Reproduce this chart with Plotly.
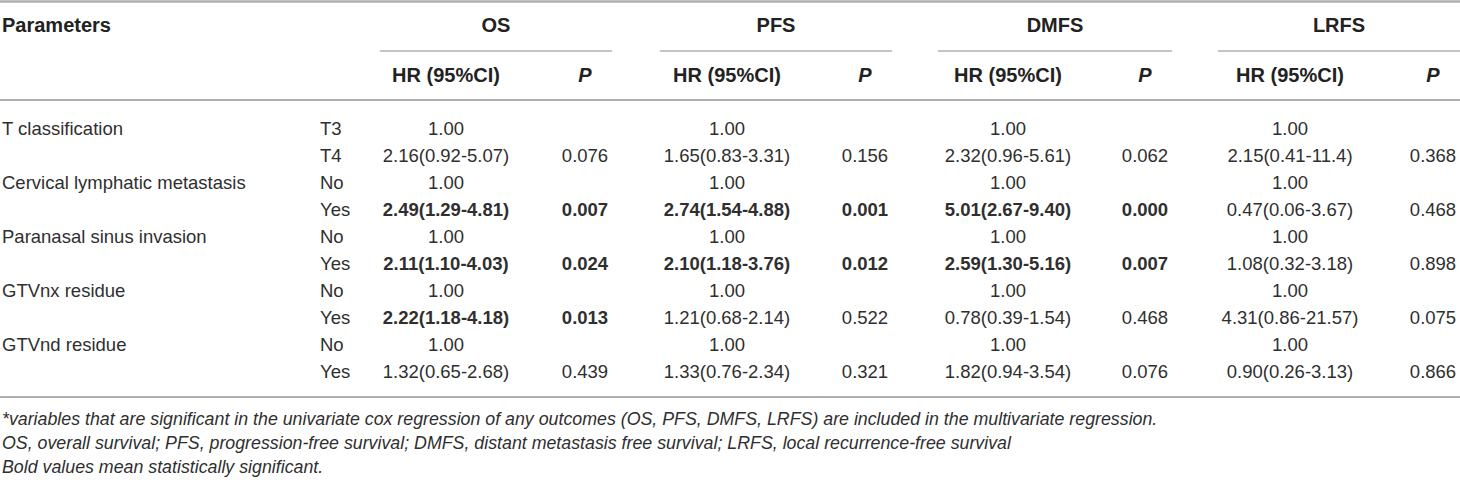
import plotly.graph_objects as go

# table data
params = ["T classification", "", "Cervical lymphatic metastasis", "", "Paranasal sinus invasion", "",
          "GTVnx residue", "", "GTVnd residue", ""]
levels = ["T3", "T4", "No", "Yes", "No", "Yes", "No", "Yes", "No", "Yes"]

os_hr = ["1.00", "2.16(0.92-5.07)", "1.00", "2.49(1.29-4.81)", "1.00", "2.11(1.10-4.03)",
         "1.00", "2.22(1.18-4.18)", "1.00", "1.32(0.65-2.68)"]
os_p = ["", "0.076", "", "0.007", "", "0.024", "", "0.013", "", "0.439"]
pfs_hr = ["1.00", "1.65(0.83-3.31)", "1.00", "2.74(1.54-4.88)", "1.00", "2.10(1.18-3.76)",
          "1.00", "1.21(0.68-2.14)", "1.00", "1.33(0.76-2.34)"]
pfs_p = ["", "0.156", "", "0.001", "", "0.012", "", "0.522", "", "0.321"]
dmfs_hr = ["1.00", "2.32(0.96-5.61)", "1.00", "5.01(2.67-9.40)", "1.00", "2.59(1.30-5.16)",
           "1.00", "0.78(0.39-1.54)", "1.00", "1.82(0.94-3.54)"]
dmfs_p = ["", "0.062", "", "0.000", "", "0.007", "", "0.468", "", "0.076"]
lrfs_hr = ["1.00", "2.15(0.41-11.4)", "1.00", "0.47(0.06-3.67)", "1.00", "1.08(0.32-3.18)",
           "1.00", "4.31(0.86-21.57)", "1.00", "0.90(0.26-3.13)"]
lrfs_p = ["", "0.368", "", "0.468", "", "0.898", "", "0.075", "", "0.866"]

outcomes = ["OS", "PFS", "DMFS", "LRFS"]
footnotes = [
    "*variables that are significant in the univariate cox regression of any outcomes (OS, PFS, DMFS, LRFS) are included in the multivariate regression.",
    "OS, overall survival; PFS, progression-free survival; DMFS, distant metastasis free survival; LRFS, local recurrence-free survival",
    "Bold values mean statistically significant.",
]

# layout (pixels)
W, H = 1460, 480
FONT = "Liberation Sans, Arial, Helvetica, sans-serif"
TXT = "#2f2f2f"
LINE = "#b0b0b0"
row_y0, row_step = 130, 27
y_head1, y_grpline, y_head2, y_sep = 27, 51, 77, 100
y_bottom = 397
foot_y0, foot_step = 421, 24

x_param, x_level = 2, 320
hr_x = [446, 727, 1008, 1290]
p_x = [585, 865, 1145, 1433]
grp_lines = [(380, 612), (660, 892), (938, 1172), (1218, 1460)]

rows_y = [row_y0 + row_step * i for i in range(len(levels))]


def bold_if(vals, pvals):
    out = []
    for v, p in zip(vals, pvals):
        if p != "" and float(p) < 0.05:
            out.append("<b>" + v + "</b>")
        else:
            out.append(v)
    return out


fig = go.Figure()

def add_text(x, y, text, pos="middle center", size=18.5, color=TXT):
    fig.add_trace(go.Scatter(
        x=x, y=y, text=text, mode="text", textposition=pos,
        textfont=dict(family=FONT, size=size, color=color),
        cliponaxis=False, hoverinfo="skip", showlegend=False
    ))

# body
add_text([x_param] * len(params), rows_y, params, pos="middle right")
add_text([x_level] * len(levels), rows_y, levels, pos="middle right")
for k, (hr, p) in enumerate([(os_hr, os_p), (pfs_hr, pfs_p), (dmfs_hr, dmfs_p), (lrfs_hr, lrfs_p)]):
    add_text([hr_x[k]] * len(hr), rows_y, bold_if(hr, p))
    add_text([p_x[k]] * len(p), rows_y, bold_if(p, p))

# headers
add_text([x_param], [y_head1], ["<b>Parameters</b>"], pos="middle right", size=20, color="#222")
add_text([(a + b) / 2 for a, b in grp_lines], [y_head1] * 4,
         ["<b>" + o + "</b>" for o in outcomes], size=20, color="#222")
add_text(hr_x, [y_head2] * 4, ["<b>HR (95%CI)</b>"] * 4, size=20, color="#222")
add_text(p_x, [y_head2] * 4, ["<b><i>P</i></b>"] * 4, size=20, color="#222")

# footnotes
add_text([x_param] * 3, [foot_y0 + foot_step * i for i in range(3)],
         ["<i>" + f + "</i>" for f in footnotes], pos="middle right", size=17.8)

# rules
for y, w in [(1.5, 2.5), (y_sep, 2), (y_bottom, 2)]:
    fig.add_shape(type="line", x0=0, x1=W, y0=y, y1=y, xref="x", yref="y",
                  line=dict(color=LINE, width=w))
for a, b in grp_lines:
    fig.add_shape(type="line", x0=a, x1=b, y0=y_grpline, y1=y_grpline, xref="x", yref="y",
                  line=dict(color=LINE, width=1.5))

fig.update_layout(
    width=W, height=H,
    margin=dict(l=0, r=0, t=0, b=0),
    paper_bgcolor="white", plot_bgcolor="white",
    xaxis=dict(range=[0, W], visible=False, fixedrange=True),
    yaxis=dict(range=[H, 0], visible=False, fixedrange=True),
    showlegend=False,
)

# page margin off so the table sits flush with the window like the original
fig.write_html("out.html", config={"displayModeBar": False},
               post_script="document.body.style.margin='0';")
